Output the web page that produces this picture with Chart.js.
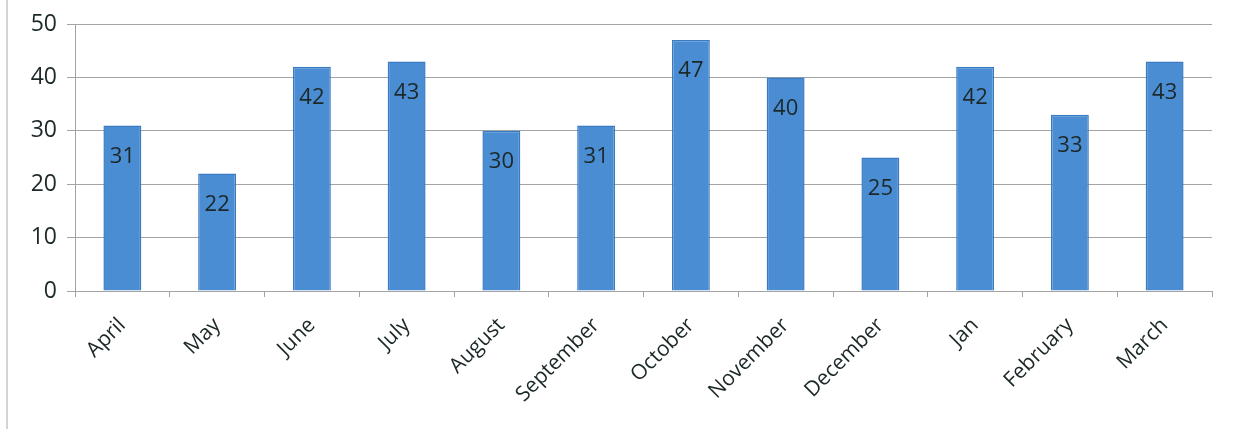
<!DOCTYPE html>
<html>
<head>
<meta charset="utf-8">
<script src="https://cdn.jsdelivr.net/npm/chart.js@4/dist/chart.umd.min.js"></script>
<style>
  html, body { margin: 0; padding: 0; background: #ffffff; }
  #wrap { position: relative; width: 1236px; height: 429px; }
  #edge { position: absolute; left: 6px; top: 0; width: 2px; height: 429px; background: #d4d4d4; }
  canvas { position: absolute; left: 0; top: 0; }
</style>
</head>
<body>
<div id="wrap">
  <div id="edge"></div>
  <canvas id="c" width="1236" height="429"></canvas>
</div>
<script>
const categories = ["April", "May", "June", "July", "August", "September", "October", "November", "December", "Jan", "February", "March"];
const values = [31, 22, 42, 43, 30, 31, 47, 40, 25, 42, 33, 43];
const yTicks = [0, 10, 20, 30, 40, 50];

const textColor = '#1c2828';
const gridColor = '#a4a4a4';

const dataLabels = {
  id: 'dataLabels',
  afterDatasetsDraw(chart) {
    const ctx = chart.ctx;
    const meta = chart.getDatasetMeta(0);
    ctx.save();
    ctx.font = '22px "Open Sans"';
    ctx.fillStyle = textColor;
    ctx.textAlign = 'center';
    ctx.textBaseline = 'middle';
    meta.data.forEach((bar, i) => {
      ctx.fillText(String(values[i]), bar.x, bar.y + 31);
    });
    ctx.restore();
  }
};

new Chart(document.getElementById('c'), {
  type: 'bar',
  data: {
    labels: categories,
    datasets: [{
      data: values,
      backgroundColor: '#4a8dd3',
      borderColor: '#3a7bc2',
      borderWidth: 1.5,
      categoryPercentage: 1.0,
      barPercentage: 0.4
    }]
  },
  options: {
    responsive: false,
    animation: false,
    devicePixelRatio: 1,
    layout: { padding: { left: 0, right: 24, top: 24, bottom: 0 } },
    plugins: { legend: { display: false }, tooltip: { enabled: false } },
    scales: {
      x: {
        offset: true,
        grid: { offset: true, drawOnChartArea: false, drawTicks: true, tickLength: 6, color: gridColor },
        border: { color: gridColor, width: 1 },
        ticks: {
          minRotation: 45, maxRotation: 45, autoSkip: false,
          color: textColor, font: { family: '"Open Sans"', size: 21 }, padding: 16
        },
        afterFit(scale) { scale.height = 138; }
      },
      y: {
        min: 0, max: 50,
        afterBuildTicks(scale) { scale.ticks = yTicks.map(v => ({ value: v })); },
        grid: { color: gridColor, tickLength: 8, drawTicks: true },
        border: { color: gridColor, width: 1 },
        ticks: { color: textColor, font: { family: '"Open Sans"', size: 23 }, padding: 10 },
        afterFit(scale) { scale.width = 75; }
      }
    }
  },
  plugins: [dataLabels]
});
</script>
</body>
</html>
